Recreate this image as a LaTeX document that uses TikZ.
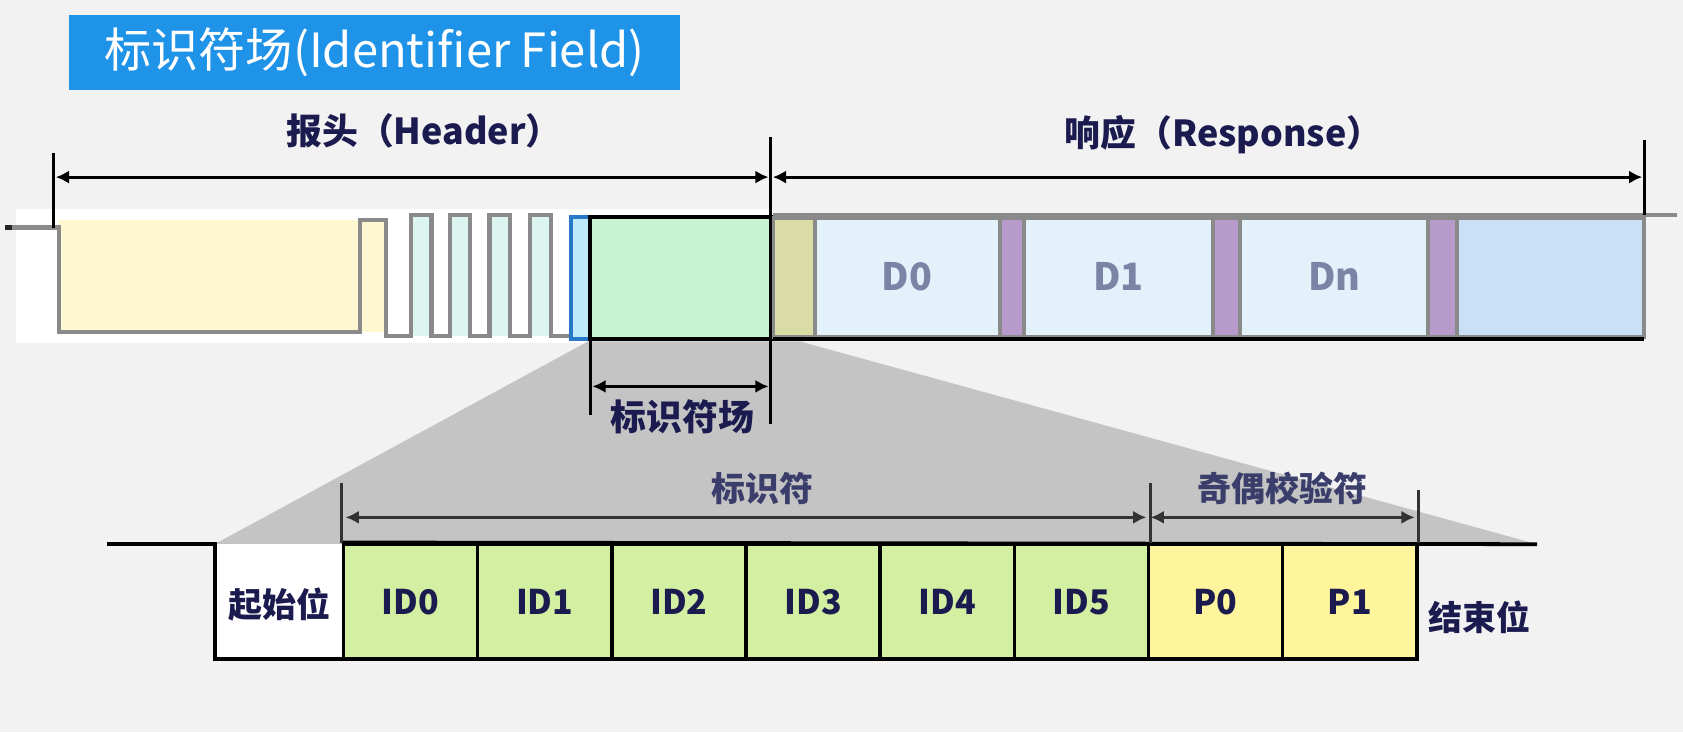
\documentclass[tikz,border=0pt]{standalone}
\usepackage{fontspec}
\setmainfont{Noto Sans CJK SC}
\usepackage{xcolor}
\usepackage{tikz}
\usetikzlibrary{arrows.meta, positioning, calc}

\definecolor{pagebg}{HTML}{F2F2F2}
\definecolor{titleblue}{HTML}{1F93E8}
\definecolor{navy}{HTML}{1B1B4F}
\definecolor{slate}{HTML}{3B3E6B}
\definecolor{dtext}{HTML}{7C84A6}
\definecolor{wavegray}{HTML}{8A8A8A}
\definecolor{hdryellow}{HTML}{FFF7CF}
\definecolor{pulsecyan}{HTML}{DDF5F1}
\definecolor{syncblue}{HTML}{BDEBFA}
\definecolor{syncedge}{HTML}{2A78C8}
\definecolor{fieldgreen}{HTML}{C8F2D0}
\definecolor{crcolive}{HTML}{D9DCA5}
\definecolor{dblue}{HTML}{E3F1FB}
\definecolor{lastblue}{HTML}{C9E0F7}
\definecolor{purp}{HTML}{B79BCB}
\definecolor{shadegray}{HTML}{C4C4C4}
\definecolor{idgreen}{HTML}{D3F0A2}
\definecolor{pyellow}{HTML}{FFF59D}

\tikzset{
  wave/.style={wavegray, line width=2.2pt},
  frame/.style={black, line width=2pt},
  tickline/.style={black, line width=1.5pt},
  dimarrow/.style={line width=1.6pt, {Latex[length=7pt,width=7pt]}-{Latex[length=7pt,width=7pt]}},
  respcell/.style={wavegray, line width=2.1pt},
  hdrlabel/.style={text=navy, font=\bfseries\fontsize{19}{22}\selectfont},
  grouplabel/.style={text=slate, font=\bfseries\fontsize{18}{21}\selectfont},
  bitlabel/.style={text=navy, font=\bfseries\fontsize{18}{21}\selectfont},
  dlabel/.style={text=dtext, font=\bfseries\fontsize{20}{24}\selectfont},
  idcell/.style={bitlabel, draw=black, line width=1.8pt, fill=idgreen, minimum width=2.5cm,
    minimum height=2.14cm, inner sep=0pt},
  pcell/.style={idcell, fill=pyellow}
}

\begin{document}
\begin{tikzpicture}[x=0.02cm, y=-0.02cm]
  % Page
  \fill[pagebg] (0,0) rectangle (1568,682);
  \useasboundingbox (0,0) rectangle (1568,682);
  \fill[white] (15,195) rectangle (720,320);

  % Title
  \node[fill=titleblue, text=white, minimum width=11.38cm, minimum height=1.4cm,
    font=\fontsize{25}{30}\selectfont] (title) at (349,49) {标识符场(Identifier Field)};

  % Header and response labels
  \node[hdrlabel] (hdr) at (395,122) {报头（Header）};
  \node[hdrlabel] (resp) at (1140,125) {响应（Response）};

  % Header waveform
  \fill[hdryellow] (55,205) rectangle (360,309);
  \foreach \x in {383,419,456,494}
    \fill[pulsecyan] (\x,200) rectangle ++(19,113);
  \draw[wave] (5,212) -- (55,212) -- (55,309) -- (335,309) -- (335,205) -- (360,205) -- (360,313)
    \foreach \x in {383,419,456,494} { -- (\x,313) -- (\x,200) -- ++(19,0) -- ++(0,113) } -- (532,313);
  \draw[black!85, line width=2.5pt] (5,212) -- (11,212);
  \draw[syncedge, fill=syncblue, line width=2pt] (532,202) rectangle (550,316);

  % Identifier field
  \fill[shadegray] (548,318) -- (200,507) -- (1432,507) -- (745,318) -- cycle;
  \draw[frame, fill=fieldgreen] (550,202) rectangle (720,316);

  % Response frame
  \foreach \a/\b/\c in {720/759/crcolive, 759/932/dblue, 932/954/purp, 954/1130/dblue,
      1130/1155/purp, 1155/1330/dblue, 1330/1357/purp, 1357/1532/lastblue}
    \draw[respcell, fill=\c] (\a,203) rectangle (\b,314);
  \draw[respcell] (720,200) -- (1562,200);
  \draw[frame] (720,316) -- (1532,316);
  \node[dlabel] (d0) at (845,258) {D0};
  \node[dlabel] (d1) at (1042,258) {D1};
  \node[dlabel] (dn) at (1243,258) {Dn};

  % Dimension lines on top
  \coordinate (hL) at (52,165);
  \coordinate (hR) at (716,165);
  \coordinate (rL) at (720,165);
  \coordinate (rR) at (1530,165);
  \draw[tickline] (50,143) -- (50,212);
  \draw[tickline] (718,128) -- (718,395);
  \draw[tickline] (1532,130) -- (1532,200);
  \draw[dimarrow] (hL) -- (hR);
  \draw[dimarrow] (rL) -- (rR);

  % Identifier field width
  \coordinate (fL) at (552,360);
  \coordinate (fR) at (716,360);
  \draw[tickline] (550,318) -- (550,387);
  \draw[dimarrow] (fL) -- (fR);
  \node[hdrlabel] (fieldlab) at (636,388) {标识符场};

  % Bit cells
  \fill[white] (200,507) rectangle (320,614);
  \draw[frame] (100,507) -- (200,507) -- (200,614) -- (320,614);
  \node[bitlabel] (start) at (260,563) {起始位};
  \foreach \i in {0,...,5}
    \node[idcell] (id\i) at ({382.5+125*\i},560.5) {ID\i};
  \node[pcell] (p0) at (1132.5,560.5) {P0};
  \node[pcell] (p1) at (1257.5,560.5) {P1};
  \draw[frame] (id0.north west) -- (1432,507);
  \node[bitlabel] (stop) at (1378,575) {结束位};

  % Identifier and parity widths
  \coordinate (iL) at (322,482);
  \coordinate (iR) at (1068,482);
  \coordinate (pL) at (1072,482);
  \coordinate (pR) at (1318,482);
  \draw[tickline, black!80] (id0.north west) -- ++(0,-55);
  \draw[tickline, black!80] (id5.north east) -- ++(0,-55);
  \draw[tickline, black!80] (p1.north east) -- ++(0,-49);
  \draw[dimarrow, black!80] (iL) -- (iR);
  \draw[dimarrow, black!80] (pL) -- (pR);
  \node[grouplabel] (idlab) at (710,455) {标识符};
  \node[grouplabel] (parlab) at (1195,455) {奇偶校验符};
\end{tikzpicture}
\end{document}
